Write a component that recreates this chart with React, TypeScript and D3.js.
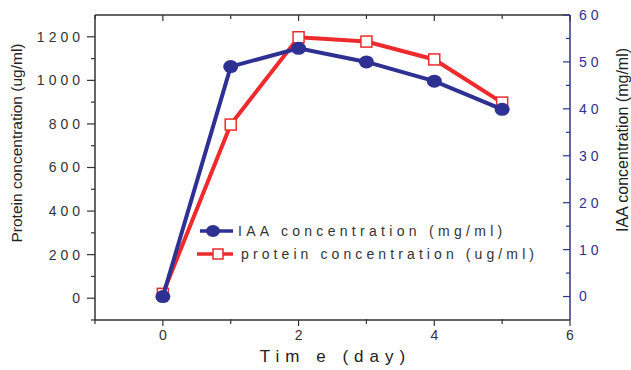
import React from 'react'
import * as d3 from 'd3'

// Time (day)
const days = [0, 1, 2, 3, 4, 5]
// IAA concentration (mg/ml), right axis
const iaaValues = [0, 49.0, 52.9, 50.0, 45.9, 39.9]
// protein concentration (ug/ml), left axis
const proteinValues = [20, 797, 1198, 1178, 1096, 898]

const xMajorTicks = [0, 2, 4, 6]
const xMinorTicks = [-1, 1, 3, 5]
const leftMajorTicks = [0, 200, 400, 600, 800, 1000, 1200]
const leftMinorTicks = [-100, 100, 300, 500, 700, 900, 1100]
const rightMajorTicks = [0, 10, 20, 30, 40, 50, 60]
const rightMinorTicks = [5, 15, 25, 35, 45, 55]

const BLUE = '#2e3192'
const RED = '#ee2a2d'
const DARK = '#333'
const FONT = '"Liberation Sans", Arial, sans-serif'

const App = () => {
  const width = 631
  const height = 370
  const margin = { top: 15, right: 61, bottom: 50, left: 95 }
  const innerW = width - margin.left - margin.right
  const innerH = height - margin.top - margin.bottom

  const x = d3.scaleLinear().domain([-1, 6]).range([0, innerW])
  const yLeft = d3.scaleLinear().domain([-100, 1300]).range([innerH, 0])
  const yRight = d3.scaleLinear().domain([-5, 60]).range([innerH, 0])

  const iaaLine = d3.line<number>()
    .x((d, i) => x(days[i]))
    .y(d => yRight(d))
  const proteinLine = d3.line<number>()
    .x((d, i) => x(days[i]))
    .y(d => yLeft(d))

  const sq = 11

  return (
    <svg width={width} height={height} style={{ display: 'block', position: 'absolute', left: 0, top: 0, background: '#fff' }}>
      <g transform={`translate(${margin.left},${margin.top})`} fontFamily={FONT}>
        {/* frame */}
        <line x1={0} x2={innerW} y1={0} y2={0} stroke={DARK} strokeWidth={1.5} />
        <line x1={0} x2={innerW} y1={innerH} y2={innerH} stroke={DARK} strokeWidth={1.5} />
        <line x1={0} x2={0} y1={0} y2={innerH} stroke={DARK} strokeWidth={1.5} />
        <line x1={innerW} x2={innerW} y1={0} y2={innerH} stroke={BLUE} strokeWidth={1.5} />

        {/* x ticks bottom + top */}
        {xMajorTicks.map(t => (
          <g key={'xM' + t}>
            <line x1={x(t)} x2={x(t)} y1={innerH} y2={innerH + 6} stroke={DARK} strokeWidth={1.2} />
            <line x1={x(t)} x2={x(t)} y1={0} y2={6} stroke={DARK} strokeWidth={1.2} />
            <text x={x(t)} y={innerH + 20} textAnchor="middle" fontSize={14} fill={DARK}>{t}</text>
          </g>
        ))}
        {xMinorTicks.map(t => (
          <g key={'xm' + t}>
            <line x1={x(t)} x2={x(t)} y1={innerH - 1} y2={innerH + 4} stroke={DARK} strokeWidth={1.2} />
            <line x1={x(t)} x2={x(t)} y1={0} y2={4} stroke={DARK} strokeWidth={1.2} />
          </g>
        ))}

        {/* left ticks */}
        {leftMajorTicks.map(t => (
          <g key={'lM' + t}>
            <line x1={-8} x2={0} y1={yLeft(t)} y2={yLeft(t)} stroke={DARK} strokeWidth={1.2} />
            <text x={-11} y={yLeft(t)} dy="0.35em" textAnchor="end" fontSize={14} letterSpacing={4} fill={DARK}>{t}</text>
          </g>
        ))}
        {leftMinorTicks.map(t => (
          <line key={'lm' + t} x1={-4} x2={0} y1={yLeft(t)} y2={yLeft(t)} stroke={DARK} strokeWidth={1.2} />
        ))}

        {/* right ticks */}
        {rightMajorTicks.map(t => (
          <g key={'rM' + t}>
            <line x1={innerW - 7} x2={innerW} y1={yRight(t)} y2={yRight(t)} stroke={BLUE} strokeWidth={1.2} />
            <text x={innerW + 9} y={yRight(t)} dy="0.35em" textAnchor="start" fontSize={14} letterSpacing={4} fill={BLUE}>{t}</text>
          </g>
        ))}
        {rightMinorTicks.map(t => (
          <line key={'rm' + t} x1={innerW - 4} x2={innerW} y1={yRight(t)} y2={yRight(t)} stroke={BLUE} strokeWidth={1.2} />
        ))}

        {/* series */}
        <path d={proteinLine(proteinValues) || ''} fill="none" stroke={RED} strokeWidth={4} />
        {proteinValues.map((v, i) => (
          <rect key={'p' + i} x={x(days[i]) - sq / 2} y={yLeft(v) - sq / 2} width={sq} height={sq}
            fill="#fff" stroke={RED} strokeWidth={1.5} />
        ))}
        <path d={iaaLine(iaaValues) || ''} fill="none" stroke={BLUE} strokeWidth={4} />
        {iaaValues.map((v, i) => (
          <ellipse key={'a' + i} cx={x(days[i])} cy={yRight(v)} rx={7.5} ry={6.5} fill={BLUE} />
        ))}

        {/* legend */}
        <g transform={`translate(${200 - margin.left},${231 - margin.top})`}>
          <line x1={0} x2={33} y1={0} y2={0} stroke={BLUE} strokeWidth={3.5} />
          <ellipse cx={13} cy={0} rx={7} ry={6} fill={BLUE} />
          <text x={38} y={0} dy="0.35em" fontSize={14} letterSpacing={4.3} fill={DARK}>IAA concentration (mg/ml)</text>
        </g>
        <g transform={`translate(${197 - margin.left},${254 - margin.top})`}>
          <line x1={0} x2={36} y1={0} y2={0} stroke={RED} strokeWidth={3.5} />
          <rect x={21 - 5} y={-5} width={10} height={10} fill="#fff" stroke={RED} strokeWidth={1.5} />
          <text x={44} y={0} dy="0.35em" fontSize={14} letterSpacing={4.1} fill={DARK}>protein concentration (ug/ml)</text>
        </g>

        {/* axis titles */}
        <text transform={`translate(${innerW / 2 + 3}, ${innerH + 42})`} textAnchor="middle" fontSize={17} letterSpacing={6} fill="#222">Tim e (day)</text>
        <text transform={`translate(${22 - margin.left}, ${143 - margin.top}) rotate(-90)`} textAnchor="middle" fontSize={15.5} fill="#222">Protein concentration (ug/ml)</text>
        <text transform={`translate(${628 - margin.left}, ${140 - margin.top}) rotate(-90)`} textAnchor="middle" fontSize={16} fill="#222">IAA concentration (mg/ml)</text>
      </g>
    </svg>
  )
}

export default App
